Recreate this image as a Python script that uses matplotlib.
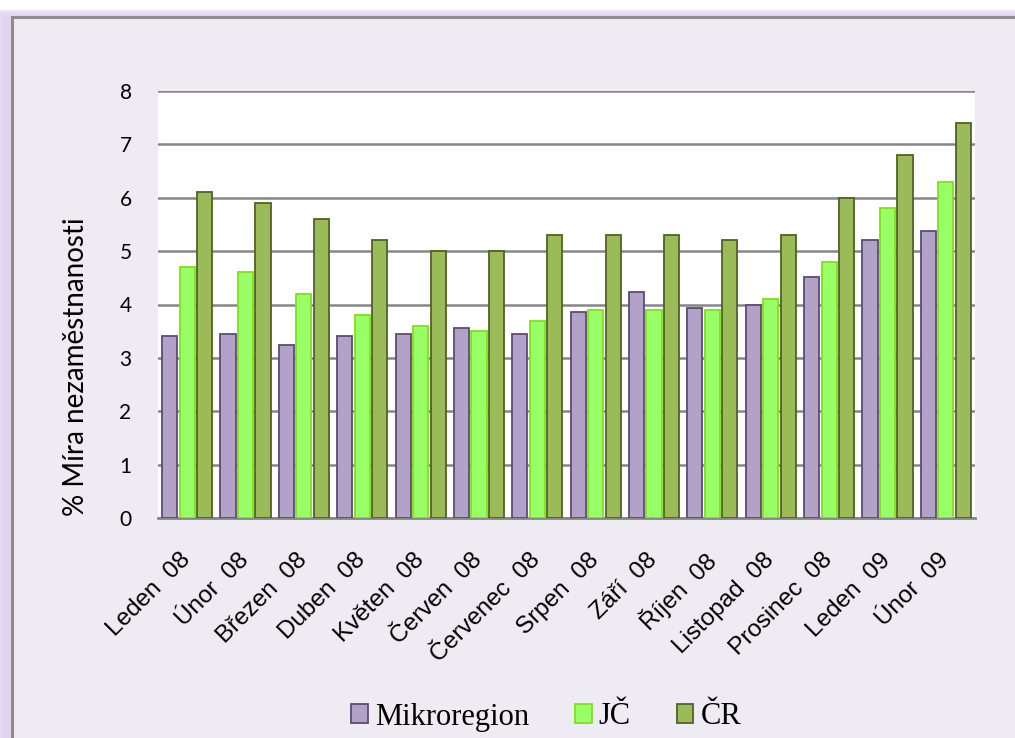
import matplotlib.pyplot as plt
import numpy as np
from matplotlib.patches import Rectangle

months = ["Leden  08", "Únor  08", "Březen  08", "Duben  08", "Květen  08", "Červen  08",
          "Červenec  08", "Srpen  08", "Září  08", "Říjen  08", "Listopad  08",
          "Prosinec  08", "Leden  09", "Únor  09"]
mikroregion = [3.41, 3.45, 3.24, 3.41, 3.45, 3.56, 3.45, 3.86, 4.24, 3.94, 4.0, 4.51, 5.21, 5.37]
jc = [4.7, 4.6, 4.2, 3.8, 3.6, 3.5, 3.7, 3.9, 3.9, 3.9, 4.1, 4.8, 5.8, 6.3]
cr = [6.1, 5.9, 5.6, 5.2, 5.0, 5.0, 5.3, 5.3, 5.3, 5.2, 5.3, 6.0, 6.8, 7.4]

series = [
    ("Mikroregion", mikroregion, "#b3a2c7", "#5f497a"),
    ("JČ", jc, "#99ff66", "#7fe01a"),
    ("ČR", cr, "#9bbb59", "#4f6228"),
]

W, H = 1015, 738
fig = plt.figure(figsize=(W / 100, H / 100), dpi=100)
fig.patch.set_facecolor("white")

# soft purple glow round the frame
for i, a in enumerate([0.12, 0.2, 0.3, 0.45]):
    off = 12 - 2.5 * i
    fig.patches.append(Rectangle(((off - 8) / W, 0), 1.2, (H - 17 - 8 + 2.5 * i + 8) / H,
                                 transform=fig.transFigure, facecolor="#d6c6ee",
                                 edgecolor="none", alpha=a, zorder=0))
fig.patches.append(Rectangle((12 / W, -0.1), 1.2, (H - 17) / H + 0.1,
                             transform=fig.transFigure, facecolor="#eeebf3",
                             edgecolor="#8c8c8c", linewidth=2.2, zorder=1))

ax = fig.add_axes([158 / W, (H - 518) / H, 817 / W, 427 / H])
ax.set_facecolor("white")
ax.set_zorder(2)

x = np.arange(len(months))
width = 0.26
step = 0.30
for i, (name, vals, fc, ec) in enumerate(series):
    ax.bar(x + (i - 1) * step, vals, width, color=fc, edgecolor=ec, linewidth=1.3,
           label=name, zorder=3)

ax.set_xlim(-0.5, len(months) - 0.5)
ax.set_ylim(0, 8)
ax.set_yticks(range(0, 9))
ax.yaxis.grid(True, color="#868686", linewidth=1.8, zorder=1)
ax.set_axisbelow(True)
for side in ["left", "right", "top"]:
    ax.spines[side].set_visible(False)
ax.spines["bottom"].set_color("#868686")
ax.spines["bottom"].set_linewidth(2)
ax.tick_params(axis="both", length=0)
ax.tick_params(axis="y", pad=19, labelsize=15)
for lab in ax.get_yticklabels():
    lab.set_fontfamily("Lato")

ax.set_xticks(x)
ax.set_xticklabels(months, rotation=45, ha="right", va="center", rotation_mode="anchor",
                   fontsize=17.5, family="Liberation Sans")
ax.tick_params(axis="x", pad=28)

ax.set_ylabel("% Míra nezaměstnanosti", fontsize=20, family="Lato")
ax.yaxis.set_label_coords(-0.085, 0.354)

fig.legend(loc="center", bbox_to_anchor=(546 / W, (H - 717) / H), ncol=3, frameon=False,
           prop={"family": "Liberation Serif", "size": 22}, handlelength=0.55,
           handleheight=0.55, handletextpad=0.23, columnspacing=1.5, borderpad=0)

fig.savefig("out.png", dpi=100, facecolor=fig.get_facecolor())
